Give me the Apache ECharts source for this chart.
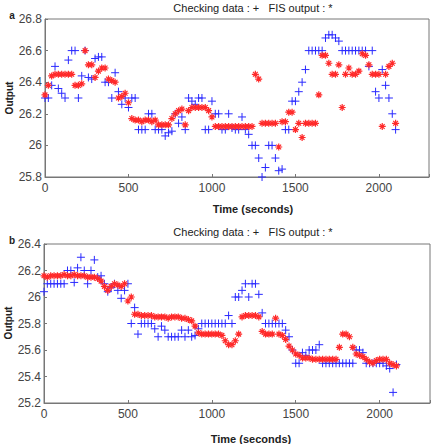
<!DOCTYPE html>
<html>
<head>
<meta charset="utf-8">
<script src="https://cdn.jsdelivr.net/npm/echarts@6/dist/echarts.min.js"></script>
<style>
html, body { margin: 0; padding: 0; background: #fff; }
#container { width: 436px; height: 444px; }
</style>
</head>
<body>
<div id="container"></div>
<script>
// Tiempo de muestreo (s), comun a los dos paneles
var timeSec = [0, 20, 40, 60, 80, 100, 120, 140, 160, 180, 200, 220, 240, 260, 280, 300, 320, 340, 360, 380,
    400, 420, 440, 460, 480, 500, 520, 540, 560, 580, 600, 620, 640, 660, 680, 700, 720, 740, 760, 780,
    800, 820, 840, 860, 880, 900, 920, 940, 960, 980, 1000, 1020, 1040, 1060, 1080, 1100, 1120, 1140, 1160, 1180,
    1200, 1220, 1240, 1260, 1280, 1300, 1320, 1340, 1360, 1380, 1400, 1420, 1440, 1460, 1480, 1500, 1520, 1540, 1560, 1580,
    1600, 1620, 1640, 1660, 1680, 1700, 1720, 1740, 1760, 1780, 1800, 1820, 1840, 1860, 1880, 1900, 1920, 1940, 1960, 1980,
    2000, 2020, 2040, 2060, 2080, 2100];

// Panel a
var checkA = [26.30, 26.30, 26.38, 26.50, 26.36, 26.33, 26.30, 26.54, 26.60, 26.60, 26.30, 26.44, 26.60, 26.43, 26.42, 26.55, 26.56, 26.56, 26.40, 26.40,
    26.30, 26.46, 26.34, 26.26, 26.30, 26.24, 26.30, 26.30, 26.10, 26.10, 26.10, 26.20, 26.20, 26.10, 26.10, 26.10, 26.06, 26.08, 26.09, 26.20,
    26.14, 26.18, 26.10, 26.30, 26.28, 26.26, 26.30, 26.30, 26.10, 26.10, 26.28, 26.20, 26.20, 26.10, 26.10, 26.20, 26.11, 26.10, 26.10, 26.18,
    26.10, 26.07, 26.00, 26.00, 25.92, 25.80, 25.86, 26.00, 26.00, 25.92, 25.84, 25.85, 26.10, 26.10, 26.28, 26.28, 26.34, 26.40, 26.48, 26.60,
    26.60, 26.60, 26.60, 26.60, 26.68, 26.70, 26.70, 26.68, 26.66, 26.60, 26.60, 26.60, 26.60, 26.60, 26.60, 26.60, 26.60, 26.50, 26.60, 26.34,
    26.30, 26.48, 26.38, 26.30, 26.20, 26.10];
var fisA = [26.32, 26.38, 26.44, 26.45, 26.45, 26.45, 26.45, 26.45, 26.45, 26.38, 26.38, 26.39, 26.60, 26.51, 26.51, 26.43, 26.47, 26.49, 26.49, 26.42,
    26.41, 26.40, 26.30, 26.31, 26.33, 26.27, 26.17, 26.16, 26.16, 26.15, 26.16, 26.16, 26.15, 26.16, 26.13, 26.13, 26.13, 26.13, 26.17, 26.20,
    26.22, 26.23, 26.13, 26.22, 26.24, 26.24, 26.24, 26.24, 26.24, 26.22, 26.18, 26.12, 26.12, 26.12, 26.12, 26.12, 26.12, 26.12, 26.12, 26.12,
    26.12, 26.12, 26.12, 26.45, 26.42, 26.14, 26.14, 26.14, 26.14, 26.14, 25.99, 26.15, 26.15, 26.21, 26.21, 26.10, 26.14, 26.05, 26.14, 26.14,
    26.14, 26.14, 26.32, 26.57, 26.57, 26.52, 26.45, 26.45, 26.51, 26.24, 26.45, 26.49, 26.45, 26.45, 26.47, 26.58, 26.57, 26.51, 26.45, 26.45,
    26.45, 26.12, 26.45, 26.50, 26.52, 26.14];

// Panel b
var checkB = [26.04, 26.10, 26.10, 26.10, 26.10, 26.10, 26.10, 26.20, 26.20, 26.11, 26.22, 26.30, 26.20, 26.10, 26.20, 26.28, 26.15, 26.16, 26.10, 26.04,
    26.07, 26.10, 26.05, 25.99, 26.05, 26.10, 25.80, 25.92, 25.72, 25.80, 25.80, 25.80, 25.80, 25.76, 25.70, 25.78, 25.75, 25.70, 25.70, 25.70,
    25.70, 25.75, 25.70, 25.75, 25.70, 25.71, 25.76, 25.80, 25.80, 25.80, 25.80, 25.80, 25.80, 25.80, 25.80, 25.86, 25.80, 26.00, 26.00, 26.05,
    26.10, 26.00, 26.10, 26.10, 26.02, 25.88, 25.80, 25.80, 25.80, 25.80, 25.80, 25.80, 25.75, 25.70, 25.60, 25.50, 25.50, 25.58, 25.56, 25.60,
    25.60, 25.60, 25.64, 25.50, 25.50, 25.50, 25.50, 25.50, 25.50, 25.50, 25.50, 25.50, 25.50, 25.60, 25.60, 25.58, 25.50, 25.50, 25.50, 25.50,
    25.50, 25.50, 25.48, 25.46, 25.28, 25.49];
var fisB = [26.16, 26.15, 26.16, 26.16, 26.16, 26.16, 26.17, 26.16, 26.16, 26.17, 26.16, 26.16, 26.16, 26.15, 26.15, 26.15, 26.14, 26.12, 26.08, 26.05,
    26.08, 26.10, 26.09, 26.08, 26.10, 25.97, 26.00, 25.87, 25.87, 25.86, 25.86, 25.86, 25.86, 25.85, 25.85, 25.85, 25.85, 25.84, 25.85, 25.85,
    25.85, 25.84, 25.84, 25.83, 25.82, 25.78, 25.73, 25.72, 25.72, 25.72, 25.72, 25.72, 25.72, 25.71, 25.67, 25.64, 25.64, 25.67, 25.72, 25.85,
    25.86, 25.86, 25.86, 25.86, 25.85, 25.74, 25.72, 25.72, 25.72, 25.84, 25.72, 25.71, 25.68, 25.63, 25.60, 25.57, 25.56, 25.54, 25.54, 25.54,
    25.53, 25.53, 25.53, 25.53, 25.53, 25.53, 25.53, 25.53, 25.62, 25.72, 25.72, 25.70, 25.62, 25.57, 25.56, 25.55, 25.53, 25.51, 25.50, 25.52,
    25.53, 25.53, 25.53, 25.50, 25.49, 25.48];

var plotTitle = 'Checking data : +   FIS output : *';
var xName = 'Time (seconds)';
var yName = 'Output';

var plusPath = 'path://M0,5L10,5M5,0L5,10';
var starPath = 'path://M0,5L10,5M5,0L5,10M1.6,1.6L8.4,8.4M1.6,8.4L8.4,1.6';
var font = '"Liberation Sans", Arial, sans-serif';

function pairs(values) {
    return timeSec.map(function (t, i) { return [t, values[i]]; });
}

function xAxisFor(idx) {
    return {
        gridIndex: idx, type: 'value', min: 0, max: 2300, interval: 500,
        axisLine: { show: true, onZero: false, lineStyle: { color: '#777' } },
        axisTick: { inside: true, length: 3, lineStyle: { color: '#777' } },
        splitLine: { show: false },
        axisLabel: {
            color: '#444', fontSize: 12, fontFamily: font, margin: 5,
            formatter: function (v) { return v % 500 === 0 ? v : ''; }
        }
    };
}

function yAxisFor(idx, lo, hi) {
    return {
        gridIndex: idx, type: 'value', min: lo, max: hi, interval: 0.2,
        axisLine: { show: true, lineStyle: { color: '#777' } },
        axisTick: { inside: true, length: 3, lineStyle: { color: '#777' } },
        splitLine: { show: false },
        axisLabel: {
            color: '#444', fontSize: 12, fontFamily: font, margin: 3,
            formatter: function (v) { return String(parseFloat(v.toFixed(1))); }
        }
    };
}

function series(idx, values, isFis) {
    return {
        type: 'scatter', xAxisIndex: idx, yAxisIndex: idx,
        data: pairs(values),
        symbol: isFis ? starPath : plusPath,
        symbolSize: isFis ? 7 : 8,
        itemStyle: {
            color: 'rgba(0,0,0,0)',
            borderColor: isFis ? '#ff2a2a' : '#2a2aff',
            borderWidth: isFis ? 1.2 : 1,
            opacity: 1
        },
        emphasis: { disabled: true },
        animation: false,
        z: isFis ? 3 : 2
    };
}

function label(txt, x, y, size, weight, rot) {
    return {
        type: 'text', x: x, y: y, rotation: rot || 0,
        style: {
            text: txt, fill: '#222', font: weight + ' ' + size + 'px ' + font,
            textAlign: 'center', textVerticalAlign: 'middle'
        }
    };
}

var dom = document.getElementById('container');
var myChart = echarts.init(dom, null, { renderer: 'svg' });

var option = {
    animation: false,
    grid: [
        { left: 45, top: 19, width: 384, height: 158, show: true, borderColor: '#777', borderWidth: 1 },
        { left: 44, top: 244, width: 386, height: 159, show: true, borderColor: '#777', borderWidth: 1 }
    ],
    xAxis: [xAxisFor(0), xAxisFor(1)],
    yAxis: [yAxisFor(0, 25.8, 26.8), yAxisFor(1, 25.2, 26.4)],
    series: [
        series(0, checkA, false), series(0, fisA, true),
        series(1, checkB, false), series(1, fisB, true)
    ],
    graphic: [
        label(plotTitle, 253, 8, 11, 'normal'),
        label('a', 12, 15, 10, 'bold'),
        label(yName, 9, 98, 10, 'bold', Math.PI / 2),
        label(xName, 253, 209, 11, 'bold'),
        label(plotTitle, 253, 232, 11, 'normal'),
        label('b', 12, 240, 10, 'bold'),
        label(yName, 8, 323, 10, 'bold', Math.PI / 2),
        label(xName, 251, 439, 11, 'bold')
    ]
};

myChart.setOption(option);
window.addEventListener('resize', myChart.resize);
</script>
</body>
</html>
